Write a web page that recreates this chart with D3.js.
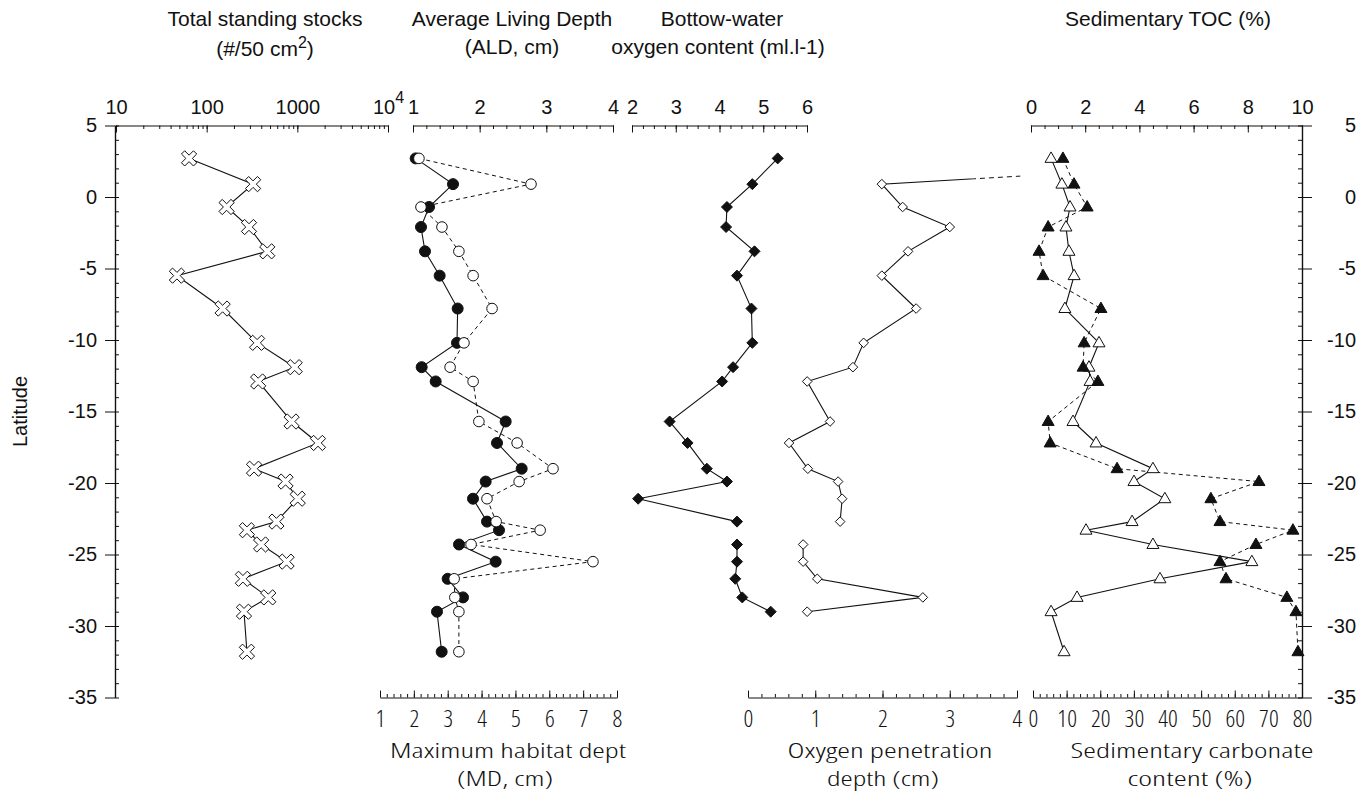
<!DOCTYPE html>
<html>
<head>
<meta charset="utf-8">
<script src="https://cdn.jsdelivr.net/npm/d3@7"></script>
<style>
body{margin:0;background:#fff;}
.narrow{font-stretch:75%;font-weight:300;}
.tickn{font-stretch:85%;font-weight:300;}
</style>
</head>
<body>
<svg id="chart" width="1367" height="799"></svg>
<script>
// station latitudes (shared by every panel)
const lat = [2.7,0.9,-0.7,-2.1,-3.8,-5.5,-7.8,-10.2,-11.9,-12.9,-15.7,-17.2,-19.0,-19.9,-21.1,-22.7,-23.3,-24.3,-25.5,-26.7,-28.0,-29.0,-31.8];
// total standing stocks (#/50 cm2)
const stocks = [64,325,166,293,466,47,150,360,935,370,865,1690,333,741,1010,588,278,399,761,251,478,258,278];
// average living depth (cm) and maximum habitat depth (cm)
const ald = [1.04,1.60,1.24,1.12,1.18,1.40,1.67,1.66,1.13,1.34,2.39,2.26,2.63,2.09,1.90,2.11,2.29,1.69,2.24,1.52,1.75,1.36,1.43];
const md = [2.15,5.46,2.21,2.83,3.33,3.75,4.31,3.48,3.07,3.75,3.92,5.05,6.11,5.11,4.16,4.43,5.73,3.69,7.29,3.19,3.21,3.33,3.33];
// bottom-water oxygen (ml/l) and oxygen penetration depth (cm); first OPD is off scale
const o2content = [5.33,4.75,4.17,4.15,4.80,4.40,4.73,4.75,4.31,4.06,2.86,3.27,3.71,4.17,2.14,4.40,null,4.40,4.40,4.36,4.52,5.17,null];
const o2pen = [8.6,1.99,2.30,3.00,2.38,1.99,2.50,1.72,1.56,0.88,1.22,0.61,0.89,1.34,1.40,1.37,null,0.82,0.82,1.03,2.60,0.88,null];
// sedimentary TOC (%) and carbonate (%)
const toc = [0.74,1.14,1.44,1.29,1.40,1.59,1.25,2.51,2.14,2.18,1.55,2.40,4.50,3.80,4.94,3.73,2.03,4.50,8.15,4.76,1.70,0.74,1.22];
const carb = [8.9,12.2,16.1,4.5,1.8,3.0,20.2,15.2,14.9,19.3,4.5,5.1,25.0,67.2,52.9,55.6,77.3,66.3,55.6,57.4,75.5,78.2,78.8];

const latTicks = [5,0,-5,-10,-15,-20,-25,-30,-35];
const stockTicks = [10,100,1000,10000];
const aldTicks = [1,2,3,4];
const o2Ticks = [2,3,4,5,6];
const mdTicks = [1,2,3,4,5,6,7,8];
const penTicks = [0,1,2,3,4];
const tocTicks = [0,2,4,6,8,10];
const carbTicks = [0,10,20,30,40,50,60,70,80];

const svg = d3.select("#chart");
const INK = "#111";
const FONT = "'Liberation Sans', Arial, sans-serif";
const NARROW = "'Open Sans','Liberation Sans',sans-serif";

const y = d3.scaleLinear().domain([5,-35]).range([125.5,697.5]);
const xStock = d3.scaleLog().domain([10,10000]).range([116,388]);
const xAld = d3.scaleLinear().domain([1,4]).range([413,613]);
const xMd = d3.scaleLinear().domain([1,8]).range([380,617]);
const xO2 = d3.scaleLinear().domain([2,6]).range([632,807]);
const xPen = d3.scaleLinear().domain([0,4]).range([748,1017]);
const xToc = d3.scaleLinear().domain([0,10]).range([1031,1302]);
const xCarb = d3.scaleLinear().domain([0,80]).range([1033,1302]);

const yTop = y(5), yBot = y(-35);

function tidy(g, font, size){
  g.attr("font-family", font).attr("font-size", size);
  g.selectAll("path.domain").attr("stroke", INK).attr("stroke-width", 1.2);
  g.selectAll(".tick line").attr("stroke", INK).attr("stroke-width", 1);
  g.selectAll(".tick text").attr("fill", INK);
}

// ---------- latitude axes ----------
function latAxis(xpos, left){
  const mk = left ? d3.axisLeft : d3.axisRight;
  svg.append("g").attr("transform", `translate(${xpos},0)`)
    .call(mk(y).tickValues(d3.range(5,-35.5,-1)).tickSizeInner(-4).tickSizeOuter(0).tickFormat(""))
    .call(g => tidy(g, FONT, 20));
  const g = svg.append("g").attr("transform", `translate(${xpos},0)`)
    .call(mk(y).tickValues(latTicks).tickSizeInner(10).tickSizeOuter(0).tickPadding(8).tickFormat(d => String(d)))
    .call(g => tidy(g, FONT, 20));
  if(!left) g.selectAll(".tick text").attr("text-anchor","end").attr("x", 54);
}
latAxis(xStock.range()[0] - 1, true);
latAxis(xToc.range()[1], false);

svg.append("text").attr("transform", `translate(27,${(yTop+yBot)/2}) rotate(-90)`)
  .attr("text-anchor","middle").attr("font-family",FONT).attr("font-size",20).attr("fill",INK)
  .text("Latitude");

// ---------- top / bottom value axes ----------
function valAxis(scale, pos, major, minor, font, size, fmt){
  const mk = pos === "top" ? d3.axisTop : d3.axisBottom;
  const yy = pos === "top" ? yTop : yBot;
  svg.append("g").attr("transform", `translate(0,${yy})`)
    .call(mk(scale).tickValues(minor).tickSizeInner(-3.5).tickSizeOuter(0).tickFormat(""))
    .call(g => { tidy(g, font, size); g.select("path.domain").remove(); });
  const g = svg.append("g").attr("transform", `translate(0,${yy})`)
    .call(mk(scale).tickValues(major).tickSizeInner(-7).tickSizeOuter(0).tickPadding(pos === "top" ? 12 : 12).tickFormat(fmt || (d => String(d))))
    .call(g => tidy(g, font, size));
  if(pos !== "top") g.selectAll(".tick text").attr("class","tickn");
  return g;
}

const stockMinor = xStock.ticks();
valAxis(xStock, "top", stockTicks, stockMinor, FONT, 20, d => d === 10000 ? "10" : String(d))
  .selectAll(".tick text").filter(d => d === 10000)
  .append("tspan").attr("dy", -11).attr("font-size", 16).text("4");

valAxis(xAld, "top", aldTicks, d3.range(1, 4.001, 0.2), FONT, 20);
valAxis(xO2, "top", o2Ticks, d3.range(2, 6.001, 0.25), FONT, 20);
valAxis(xToc, "top", tocTicks, d3.range(0, 10.001, 0.5), FONT, 20);

valAxis(xMd, "bottom", mdTicks, d3.range(1, 8.001, 0.2), NARROW, 24);
valAxis(xPen, "bottom", penTicks, d3.range(0, 4.001, 0.2), NARROW, 24);
valAxis(xCarb, "bottom", carbTicks, d3.range(0, 80.001, 2), NARROW, 24);

// ---------- titles ----------
function label(x, yy, txt, font, size, width){
  const t = svg.append("text").attr("x", x).attr("y", yy).attr("text-anchor","middle")
    .attr("font-family", font).attr("font-size", size).attr("fill", INK).text(txt);
  if(width) t.attr("class","narrow").attr("textLength", width).attr("lengthAdjust", "spacingAndGlyphs");
  return t;
}
label(265, 26, "Total standing stocks", FONT, 21);
const unit = label(265, 56, "(#/50 cm", FONT, 21);
unit.append("tspan").attr("dy", -8).attr("font-size", 16).text("2");
unit.append("tspan").attr("dy", 8).text(")");
label(512, 26, "Average Living Depth", FONT, 21);
label(512, 54, "(ALD, cm)", FONT, 21);
label(722, 26, "Bottow-water", FONT, 21);
label(718, 54, "oxygen content (ml.l-1)", FONT, 21);
label(1168, 26, "Sedimentary TOC (%)", FONT, 21);

label(508, 758, "Maximum habitat dept", NARROW, 20, 236);
label(505, 786, "(MD, cm)", NARROW, 20, 96);
label(890, 758, "Oxygen penetration", NARROW, 20, 205);
label(883, 786, "depth (cm)", NARROW, 20, 112);
label(1192, 758, "Sedimentary carbonate", NARROW, 20, 243);
label(1190, 786, "content (%)", NARROW, 20, 125);

// ---------- marker shapes ----------
const crossX = {draw(ctx, s){
  const a = s * 0.27, L = s;
  const pts = [[-a,-L],[a,-L],[a,-a],[L,-a],[L,a],[a,a],[a,L],[-a,L],[-a,a],[-L,a],[-L,-a],[-a,-a]];
  pts.forEach((p,i) => {
    const px = (p[0]-p[1])*Math.SQRT1_2, py = (p[0]+p[1])*Math.SQRT1_2;
    i ? ctx.lineTo(px,py) : ctx.moveTo(px,py);
  });
  ctx.closePath();
}};
const diamond = {draw(ctx, r){ ctx.moveTo(0,-r); ctx.lineTo(r,0); ctx.lineTo(0,r); ctx.lineTo(-r,0); ctx.closePath(); }};
const triangle = {draw(ctx, w){ const h = w*0.87; ctx.moveTo(0,-h*0.62); ctx.lineTo(w/2,h*0.38); ctx.lineTo(-w/2,h*0.38); ctx.closePath(); }};
const circle = {draw(ctx, r){ ctx.moveTo(r,0); ctx.arc(0,0,r,0,2*Math.PI); }};

function rows(vals){ return lat.map((la,i) => ({lat: la, v: vals[i]})); }

function series(vals, xs, opt){
  const data = rows(vals);
  const line = d3.line().defined(d => d.v != null).x(d => xs(d.v)).y(d => y(d.lat));
  svg.append("path").datum(data).attr("d", line)
    .attr("fill","none").attr("stroke",INK).attr("stroke-width", opt.dash ? 1 : 1.1)
    .attr("stroke-dasharray", opt.dash || null);
  return data;
}
function marks(data, xs, shape, size, filled){
  svg.append("g").selectAll("path").data(data.filter(d => d.v != null && d.v <= xs.domain()[1]))
    .join("path")
    .attr("transform", d => `translate(${xs(d.v)},${y(d.lat)})`)
    .attr("d", d3.symbol(shape, size)())
    .attr("fill", filled ? INK : "#fff")
    .attr("stroke", INK).attr("stroke-width", 1);
}

// panel 1: standing stocks
const dStock = series(stocks, xStock, {});
marks(dStock, xStock, crossX, 8.5, false);

// panel 2: ALD (solid, filled) and MD (dashed, open)
const dAld = series(ald, xAld, {});
const dMd = series(md, xMd, {dash: "4,3.5"});
marks(dAld, xAld, circle, 5.5, true);
marks(dMd, xMd, circle, 5.3, false);

// panel 3: bottom-water oxygen (filled diamonds)
const dO2 = series(o2content, xO2, {});
marks(dO2, xO2, diamond, 5.5, true);

// oxygen penetration depth: solid inside the scale, dashed tail toward the off-scale point
const defs = svg.append("defs");
defs.append("clipPath").attr("id","penSolid").append("rect")
  .attr("x", xPen(0) - 20).attr("y", 0).attr("width", xPen(3.35) - xPen(0) + 20).attr("height", 799);
defs.append("clipPath").attr("id","penDash").append("rect")
  .attr("x", xPen(3.35)).attr("y", 0).attr("width", xPen(4.05) - xPen(3.35)).attr("height", 799);
const dPen = rows(o2pen);
const penLine = d3.line().defined(d => d.v != null).x(d => xPen(d.v)).y(d => y(d.lat));
svg.append("path").datum(dPen).attr("d", penLine).attr("clip-path","url(#penSolid)")
  .attr("fill","none").attr("stroke",INK).attr("stroke-width",1.1);
svg.append("path").datum(dPen.slice(0,2)).attr("d", penLine).attr("clip-path","url(#penDash)")
  .attr("fill","none").attr("stroke",INK).attr("stroke-width",1).attr("stroke-dasharray","5,4");
marks(dPen, xPen, diamond, 4.8, false);

// panel 4: TOC (solid, open triangles) and carbonate (dashed, filled triangles)
const dToc = series(toc, xToc, {});
const dCarb = series(carb, xCarb, {dash: "4,3.5"});
marks(dToc, xToc, triangle, 12, false);
marks(dCarb, xCarb, triangle, 12, true);
</script>
</body>
</html>
